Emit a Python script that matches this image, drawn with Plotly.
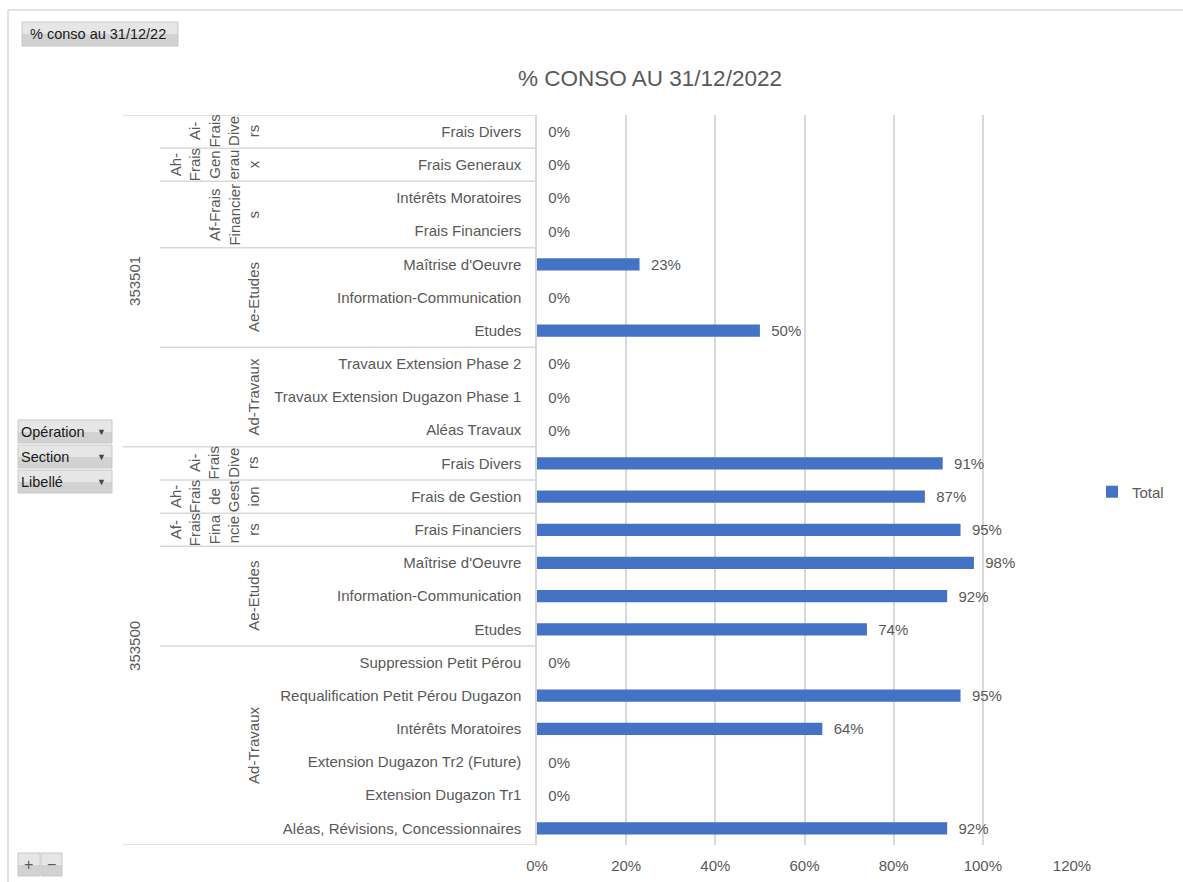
import plotly.graph_objects as go

# ---------------- data ----------------
operations = ["353501", "353500"]
op_sizes = [10, 12]

sections = ["Ai-Frais Divers", "Ah-Frais Generaux", "Af-Frais Financiers", "Ae-Etudes", "Ad-Travaux",
            "Ai-Frais Divers", "Ah-Frais de Gestion", "Af-Frais Financiers", "Ae-Etudes", "Ad-Travaux"]
section_wrapped = ["Ai-<br>Frais<br>Dive<br>rs", "Ah-<br>Frais<br>Gen<br>erau<br>x",
                   "Af-Frais<br>Financier<br>s", "Ae-Etudes", "Ad-Travaux",
                   "Ai-<br>Frais<br>Dive<br>rs", "Ah-<br>Frais<br>de<br>Gest<br>ion",
                   "Af-<br>Frais<br>Fina<br>ncie<br>rs", "Ae-Etudes", "Ad-Travaux"]
section_sizes = [1, 1, 2, 3, 3, 1, 1, 1, 3, 6]

libelles = ["Frais Divers", "Frais Generaux", "Intérêts Moratoires", "Frais Financiers",
            "Maîtrise d'Oeuvre", "Information-Communication", "Etudes",
            "Travaux Extension Phase 2", "Travaux Extension Dugazon Phase 1", "Aléas Travaux",
            "Frais Divers", "Frais de Gestion", "Frais Financiers",
            "Maîtrise d'Oeuvre", "Information-Communication", "Etudes",
            "Suppression Petit Pérou", "Requalification Petit Pérou Dugazon", "Intérêts Moratoires",
            "Extension Dugazon Tr2 (Future)", "Extension Dugazon Tr1", "Aléas, Révisions, Concessionnaires"]
values = [0.0, 0.0, 0.0, 0.0,
          0.23, 0.0, 0.50,
          0.0, 0.0, 0.0,
          0.91, 0.87, 0.95,
          0.98, 0.92, 0.74,
          0.0, 0.95, 0.64,
          0.0, 0.0, 0.92]

x_tickvals = [0, 0.2, 0.4, 0.6, 0.8, 1.0, 1.2]
x_ticktext = ["0%", "20%", "40%", "60%", "80%", "100%", "120%"]

title_text = "% CONSO AU 31/12/2022"
series_name = "Total"
field_buttons = ["Opération", "Section", "Libellé"]
filter_button = "% conso au 31/12/22"

# ---------------- styling ----------------
W, H = 1183, 882
FONT = "Liberation Sans, Arial, sans-serif"
GREY = "#595959"
LINE = "#d9d9d9"
BLUE = "#4472C4"
FS = 15


def px(x):
    return x / W


def py(y):
    return 1 - y / H


n = len(libelles)
idx = list(range(n))

fig = go.Figure()
fig.add_trace(go.Bar(
    y=idx, x=values, orientation="h", name=series_name,
    marker=dict(color=BLUE, line=dict(width=0)), width=0.37,
    texttemplate="\u00a0\u00a0%{x:.0%}", textposition="outside",
    constraintext="none", cliponaxis=False,
    textfont=dict(family=FONT, size=FS, color=GREY),
    showlegend=True,
))

shapes = []
annotations = []

# chart border
shapes.append(dict(type="line", xref="paper", yref="paper", x0=px(8), x1=px(8), y0=py(10), y1=0,
                   line=dict(color=LINE, width=1.5)))
shapes.append(dict(type="line", xref="paper", yref="paper", x0=px(8), x1=1, y0=py(10), y1=py(10),
                   line=dict(color=LINE, width=1.5)))

# hierarchy lines and labels
axis_x = px(537)
start = 0
sec_i = 0
for oi, (op, osz) in enumerate(zip(operations, op_sizes)):
    shapes.append(dict(type="line", xref="paper", yref="y", x0=px(123), x1=axis_x,
                       y0=start - 0.5, y1=start - 0.5, line=dict(color=LINE, width=1.5)))
    annotations.append(dict(xref="paper", yref="y", x=px(135), y=start + (osz - 1) / 2,
                            text=op, textangle=-90, showarrow=False, xanchor="center",
                            yanchor="middle", font=dict(family=FONT, size=FS, color=GREY)))
    s = start
    total = 0
    while total < osz:
        ssz = section_sizes[sec_i]
        if s != start:
            shapes.append(dict(type="line", xref="paper", yref="y", x0=px(160), x1=axis_x,
                               y0=s - 0.5, y1=s - 0.5, line=dict(color=LINE, width=1.5)))
        annotations.append(dict(xref="paper", yref="y", x=px(264), y=s + (ssz - 1) / 2,
                                text=section_wrapped[sec_i], textangle=-90, showarrow=False,
                                xanchor="right", yanchor="middle", align="center",
                                font=dict(family=FONT, size=FS, color=GREY)))
        s += ssz
        total += ssz
        sec_i += 1
    start += osz
shapes.append(dict(type="line", xref="paper", yref="y", x0=px(123), x1=axis_x,
                   y0=start - 0.5, y1=start - 0.5, line=dict(color=LINE, width=1.5)))


# pivot buttons
def button(x0, y0, x1, y1, label=None, arrow=False, size=14, center=False, pad=2):
    mid = (y0 + y1) / 2
    shapes.append(dict(type="rect", xref="paper", yref="paper", x0=px(x0), x1=px(x1),
                       y0=py(y1), y1=py(mid), fillcolor="#d2d2d2", line=dict(width=0)))
    shapes.append(dict(type="rect", xref="paper", yref="paper", x0=px(x0), x1=px(x1),
                       y0=py(mid), y1=py(y0), fillcolor="#e6e6e6", line=dict(width=0)))
    shapes.append(dict(type="rect", xref="paper", yref="paper", x0=px(x0), x1=px(x1),
                       y0=py(y1), y1=py(y0), fillcolor="rgba(0,0,0,0)",
                       line=dict(color="#c8c8c8", width=1)))
    if label is not None:
        if center:
            annotations.append(dict(xref="paper", yref="paper", x=px((x0 + x1) / 2), y=py(mid),
                                    text=label, showarrow=False, xanchor="center", yanchor="middle",
                                    font=dict(family=FONT, size=size, color="#5a5a5a")))
        else:
            annotations.append(dict(xref="paper", yref="paper", x=px(x0 + pad), y=py(mid),
                                    text=label, showarrow=False, xanchor="left", yanchor="middle",
                                    font=dict(family=FONT, size=size, color="#1a1a1a")))
    if arrow:
        annotations.append(dict(xref="paper", yref="paper", x=px(101), y=py(mid),
                                text="\u25BC", showarrow=False, xanchor="center", yanchor="middle",
                                font=dict(family=FONT, size=9, color="#444444")))


button(22, 22, 178, 46, filter_button, size=14.5, pad=6)
for i, lab in enumerate(field_buttons):
    button(18, 420 + i * 25, 112, 443 + i * 25, lab, arrow=True, size=14.5, pad=1)
button(18, 853, 40, 876, "+", size=16, center=True)
button(41, 853, 62, 876, "\u2212", size=16, center=True)

fig.update_layout(
    width=W, height=H,
    margin=dict(l=0, r=0, t=0, b=0, pad=0, autoexpand=False),
    paper_bgcolor="white", plot_bgcolor="white",
    font=dict(family=FONT, size=FS, color=GREY),
    title=dict(text=title_text, x=px(650), xanchor="center", y=py(78), yanchor="middle",
               font=dict(family=FONT, size=22.5, color=GREY)),
    xaxis=dict(domain=[px(537), px(1072)], range=[0, 1.2], tickvals=x_tickvals, ticktext=x_ticktext,
               showgrid=True, gridcolor=LINE, gridwidth=1.5, zeroline=False, showline=False,
               ticks="", ticklabelstandoff=10, tickfont=dict(family=FONT, size=FS, color=GREY),
               fixedrange=True, automargin=False),
    yaxis=dict(domain=[py(845), py(115)], range=[n - 0.5, -0.5], tickvals=idx, ticktext=libelles,
               showgrid=False, zeroline=False, showline=True, linecolor=LINE, linewidth=1.5,
               ticks="", ticklabelstandoff=11, tickfont=dict(family=FONT, size=FS, color=GREY),
               fixedrange=True, automargin=False),
    showlegend=True,
    legend=dict(x=px(1092), xanchor="left", y=py(492), yanchor="middle",
                font=dict(family=FONT, size=FS, color=GREY), bgcolor="rgba(0,0,0,0)"),
    shapes=shapes, annotations=annotations,
    bargap=0.6,
)

fig.write_html("out.html", config={"displayModeBar": False, "responsive": False},
               post_script="document.body.style.margin='0';document.body.style.overflow='hidden';")
